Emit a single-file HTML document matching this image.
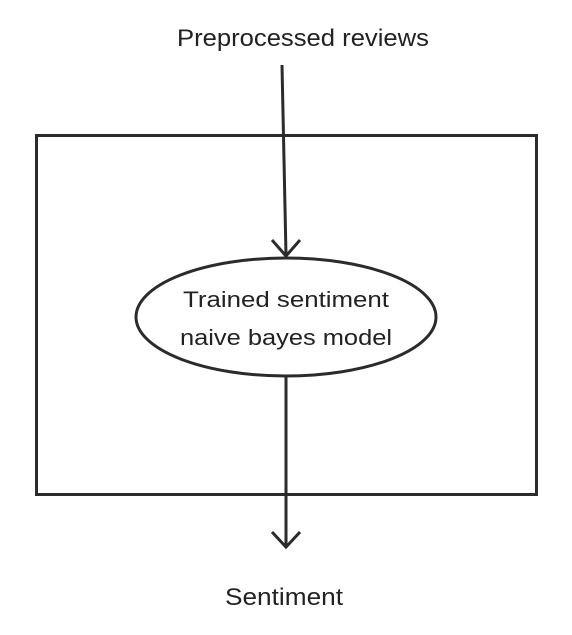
<!DOCTYPE html>
<html><head><meta charset="utf-8"><style>
html,body{margin:0;padding:0;background:#fff;}
svg{display:block;}
text{font-family:"Liberation Sans",sans-serif;fill:#222;}
</style></head><body>
<svg width="572" height="635" viewBox="0 0 572 635">
<rect x="36.5" y="135.5" width="500" height="359" fill="none" stroke="#2b2b2b" stroke-width="3"/>
<ellipse cx="286" cy="317" rx="150" ry="59" fill="#fff" stroke="#2b2b2b" stroke-width="3"/>
<path d="M282 65 L286 255" stroke="#2b2b2b" stroke-width="3" fill="none"/>
<path d="M272 240 L286 256 L300 240" stroke="#2b2b2b" stroke-width="3" fill="none"/>
<path d="M286 377 L286 546" stroke="#2b2b2b" stroke-width="3" fill="none"/>
<path d="M272 532 L286 547 L300 532" stroke="#2b2b2b" stroke-width="3" fill="none"/>
<text x="177" y="46" font-size="24" textLength="252" lengthAdjust="spacingAndGlyphs">Preprocessed reviews</text>
<text x="183" y="307" font-size="22" textLength="206" lengthAdjust="spacingAndGlyphs">Trained sentiment</text>
<text x="180" y="345" font-size="22" textLength="212" lengthAdjust="spacingAndGlyphs">naive bayes model</text>
<text x="225" y="605" font-size="24" textLength="118" lengthAdjust="spacingAndGlyphs">Sentiment</text>
</svg>
</body></html>
